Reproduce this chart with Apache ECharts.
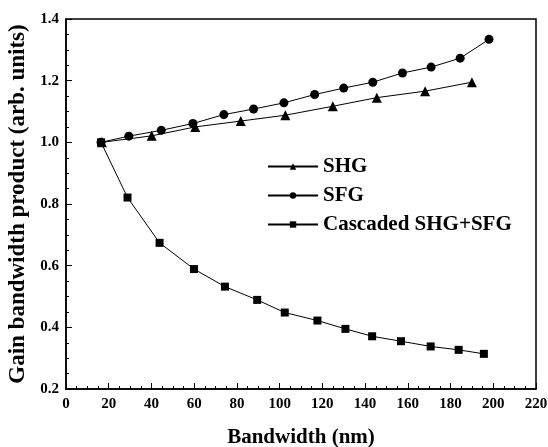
<!DOCTYPE html>
<html>
<head>
<meta charset="utf-8" />
<script src="https://cdn.jsdelivr.net/npm/echarts@6/dist/echarts.min.js"></script>
<style>
  html, body { margin: 0; padding: 0; background: #fff; }
  #chart { width: 548px; height: 447px; }
</style>
</head>
<body>
<div id="chart"></div>
<script>
// 数据
const shgX = [16.8, 40.1, 60.5, 81.8, 102.7, 124.9, 145.5, 168.1, 190];
const shgY = [1.0, 1.021, 1.05, 1.069, 1.088, 1.117, 1.145, 1.166, 1.195];

const sfgX = [16.4, 29.4, 44.6, 59.4, 73.9, 87.8, 102, 116.4, 130, 143.6, 157.5, 170.9, 184.5, 198];
const sfgY = [1.0, 1.02, 1.039, 1.061, 1.09, 1.108, 1.128, 1.155, 1.176, 1.195, 1.225, 1.244, 1.273, 1.334];

const cascX = [16.4, 28.8, 43.8, 59.9, 74.4, 89.5, 102.4, 117.7, 130.8, 143.3, 156.8, 170.7, 183.8, 195.6];
const cascY = [1.0, 0.821, 0.674, 0.589, 0.532, 0.489, 0.448, 0.422, 0.395, 0.371, 0.355, 0.338, 0.327, 0.314];

const seriesNames = ["SHG", "SFG", "Cascaded SHG+SFG"];

const zip = (xs, ys) => xs.map((x, i) => [x, ys[i]]);

const font = "'Liberation Serif', 'DejaVu Serif', serif";

const chart = echarts.init(document.getElementById("chart"));

const lineSeries = (name, data, symbol, size) => ({
  name: name,
  type: "line",
  data: data,
  symbol: symbol,
  symbolSize: size,
  showSymbol: true,
  lineStyle: { color: "#000", width: 1 },
  itemStyle: { color: "#000" },
  animation: false,
});

const option = {
  backgroundColor: "#fff",
  grid: {
    left: 66,
    right: 12,
    top: 19,
    bottom: 58,
    outerBoundsMode: "none",
    show: true,
    borderColor: "#000",
    borderWidth: 1.5,
  },
  legend: {
    orient: "vertical",
    left: 262,
    top: 151,
    itemWidth: 50,
    itemHeight: 8,
    itemGap: 8,
    data: seriesNames,
    textStyle: {
      fontFamily: font,
      fontWeight: "bold",
      fontSize: 21,
      color: "#000",
    },
  },
  xAxis: {
    type: "value",
    min: 0,
    max: 220,
    interval: 20,
    name: "Bandwidth (nm)",
    nameLocation: "middle",
    nameGap: 38,
    nameTextStyle: { fontFamily: font, fontWeight: "bold", fontSize: 21, color: "#000" },
    axisLine: { show: true, lineStyle: { color: "#000", width: 1.5 } },
    axisTick: { show: true, inside: true, length: 6, lineStyle: { color: "#000" } },
    minorTick: { show: true, splitNumber: 4, length: 3, lineStyle: { color: "#000" } },
    axisLabel: { fontFamily: font, fontWeight: "bold", fontSize: 15, color: "#000", margin: 8 },
    splitLine: { show: false },
  },
  yAxis: {
    type: "value",
    min: 0.2,
    max: 1.4,
    interval: 0.2,
    name: "Gain bandwidth product (arb. units)",
    nameLocation: "middle",
    nameGap: 36,
    nameTextStyle: { fontFamily: font, fontWeight: "bold", fontSize: 23, color: "#000" },
    axisLine: { show: true, lineStyle: { color: "#000", width: 1.5 } },
    axisTick: { show: true, inside: true, length: 6, lineStyle: { color: "#000" } },
    minorTick: { show: true, splitNumber: 4, length: 3, lineStyle: { color: "#000" } },
    axisLabel: {
      fontFamily: font,
      fontWeight: "bold",
      fontSize: 15,
      color: "#000",
      margin: 7,
      formatter: (v) => v.toFixed(1),
    },
    splitLine: { show: false },
  },
  series: [
    lineSeries(seriesNames[0], zip(shgX, shgY), "triangle", 10),
    lineSeries(seriesNames[1], zip(sfgX, sfgY), "circle", 9),
    lineSeries(seriesNames[2], zip(cascX, cascY), "rect", 8),
  ],
};

chart.setOption(option);
</script>
</body>
</html>
